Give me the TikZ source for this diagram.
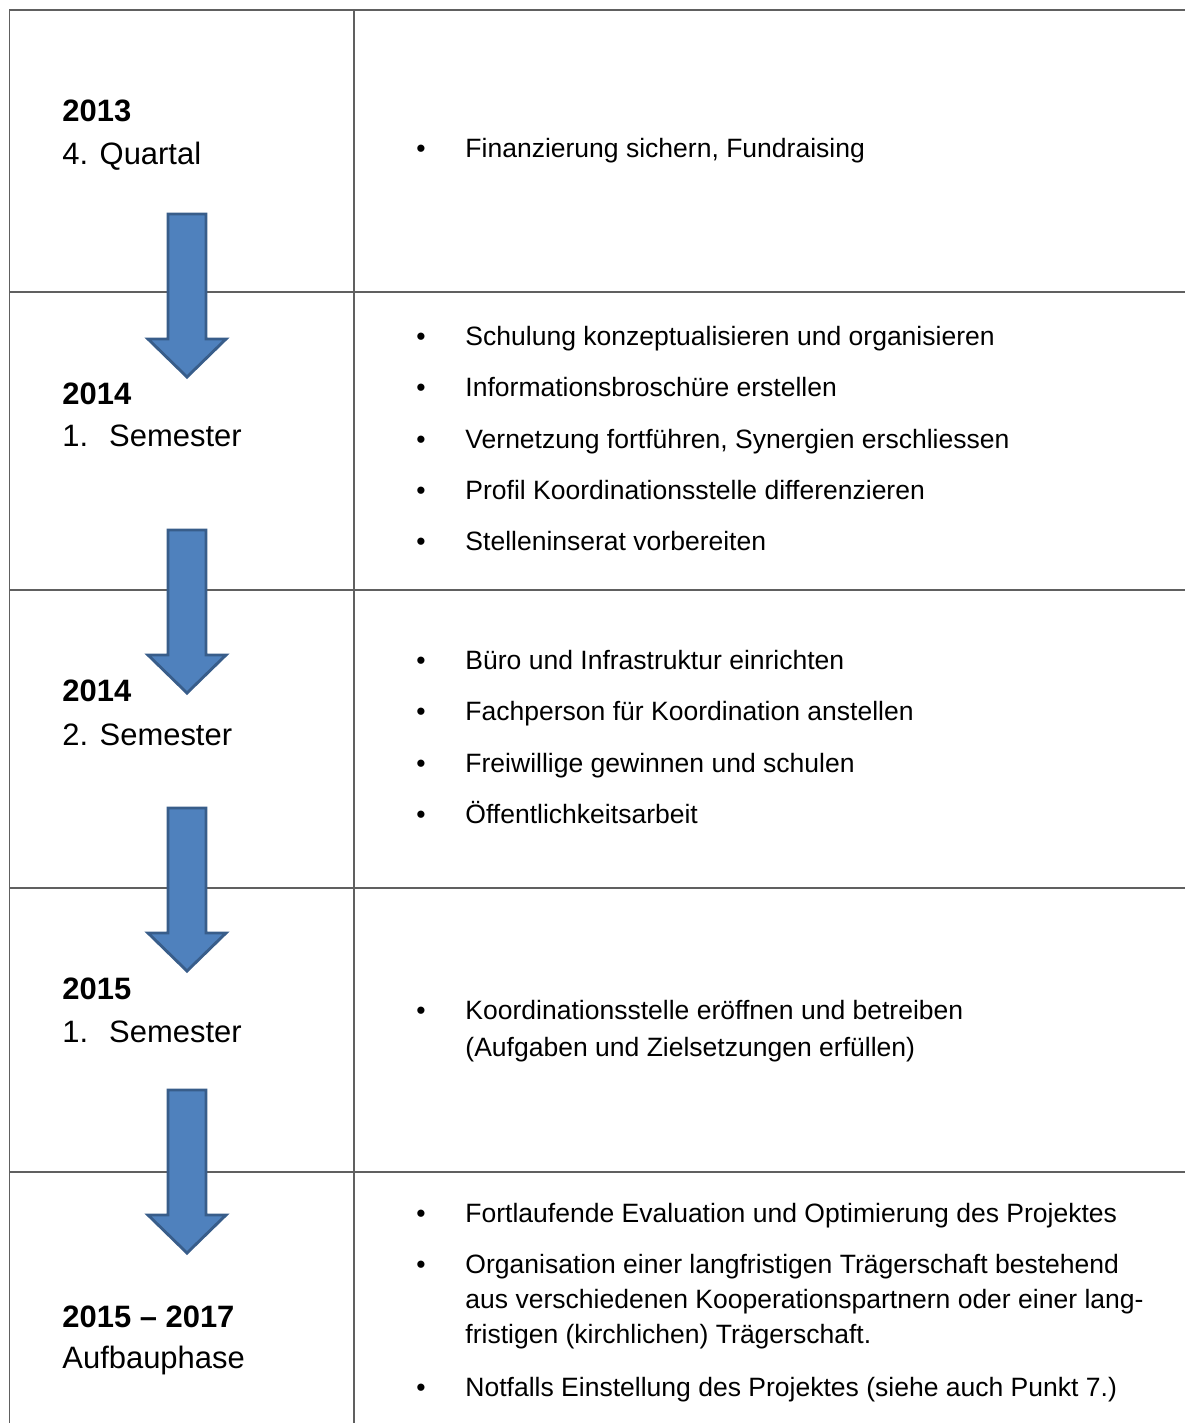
\documentclass[tikz,border=0pt]{standalone}
\usepackage{fontspec}
\setmainfont{Liberation Sans}
\usepackage{xcolor}
\usepackage{tikz}
\definecolor{gridgray}{RGB}{96,96,96}
\definecolor{arrowblue}{RGB}{79,129,189}
\definecolor{arrowedge}{RGB}{56,93,138}

\begin{document}
\begin{tikzpicture}[x=0.4525pt, y=-0.4525pt,
        gridline/.style={draw=gridgray, line width=0.9pt},
        blockarrow/.style={fill=arrowblue, draw=arrowedge, line width=1.3pt, line join=miter},
        yearnode/.style={anchor=base west, inner sep=0pt, font=\fontsize{14}{17}\selectfont\bfseries},
        phasenode/.style={anchor=base west, inner sep=0pt, font=\fontsize{14}{17}\selectfont},
        bulletnode/.style={anchor=base, inner sep=0pt, font=\fontsize{12}{14}\selectfont},
        tasknode/.style={anchor=base west, inner sep=0pt, font=\fontsize{12}{14}\selectfont},
    ]
    \useasboundingbox (0,0) rectangle (1184,1423);
    %Grid
    \draw[gridline] (1200,10) -- (9.5,10) -- (9.5,1440);
    \draw[gridline] (354,10) -- (354,1440);
    \foreach \r in {292,590,888,1172}
        \draw[gridline] (9.5,\r) -- (1200,\r);
    %Arrows
    \foreach \t in {214,530,808,1090}
        \draw[blockarrow] (168,\t) -- (206,\t) -- (206,\t+125) -- (226,\t+125)
            -- (187,\t+163) -- (148,\t+125) -- (168,\t+125) -- cycle;
    %Periods
    \node[yearnode]  (year1)  at (62,122)  {2013};
    \node[phasenode] (phase1) at (62,165)  {4. Quartal};
    \node[yearnode]  (year2)  at (62,404)  {2014};
    \node[phasenode] (phase2) at (62,446)  {1.\hspace{9.5pt}Semester};
    \node[yearnode]  (year3)  at (62,701)  {2014};
    \node[phasenode] (phase3) at (62,745)  {2. Semester};
    \node[yearnode]  (year4)  at (62,999)  {2015};
    \node[phasenode] (phase4) at (62,1042) {1.\hspace{9.5pt}Semester};
    \node[yearnode]  (year5)  at (62,1327) {2015 – 2017};
    \node[phasenode] (phase5) at (62,1368) {Aufbauphase};
    %Tasks
    \node[bulletnode] (bul11) at (421,157)  {•};
    \node[tasknode]   (task11) at (465,157) {Finanzierung sichern, Fundraising};
    \node[bulletnode] (bul21) at (421,345)  {•};
    \node[tasknode]   (task21) at (465,345) {Schulung konzeptualisieren und organisieren};
    \node[bulletnode] (bul22) at (421,396)  {•};
    \node[tasknode]   (task22) at (465,396) {Informationsbroschüre erstellen};
    \node[bulletnode] (bul23) at (421,448)  {•};
    \node[tasknode]   (task23) at (465,448) {Vernetzung fortführen, Synergien erschliessen};
    \node[bulletnode] (bul24) at (421,499)  {•};
    \node[tasknode]   (task24) at (465,499) {Profil Koordinationsstelle differenzieren};
    \node[bulletnode] (bul25) at (421,550)  {•};
    \node[tasknode]   (task25) at (465,550) {Stelleninserat vorbereiten};
    \node[bulletnode] (bul31) at (421,669)  {•};
    \node[tasknode]   (task31) at (465,669) {Büro und Infrastruktur einrichten};
    \node[bulletnode] (bul32) at (421,720)  {•};
    \node[tasknode]   (task32) at (465,720) {Fachperson für Koordination anstellen};
    \node[bulletnode] (bul33) at (421,772)  {•};
    \node[tasknode]   (task33) at (465,772) {Freiwillige gewinnen und schulen};
    \node[bulletnode] (bul34) at (421,823)  {•};
    \node[tasknode]   (task34) at (465,823) {Öffentlichkeitsarbeit};
    \node[bulletnode] (bul41) at (421,1019) {•};
    \node[tasknode]   (task41) at (465,1019) {Koordinationsstelle eröffnen und betreiben};
    \node[tasknode]   (task41b) at (465,1056) {(Aufgaben und Zielsetzungen erfüllen)};
    \node[bulletnode] (bul51) at (421,1222) {•};
    \node[tasknode]   (task51) at (465,1222) {Fortlaufende Evaluation und Optimierung des Projektes};
    \node[bulletnode] (bul52) at (421,1273) {•};
    \node[tasknode]   (task52) at (465,1273) {Organisation einer langfristigen Trägerschaft bestehend};
    \node[tasknode]   (task52b) at (465,1308) {aus verschiedenen Kooperationspartnern oder einer lang-};
    \node[tasknode]   (task52c) at (465,1343) {fristigen (kirchlichen) Trägerschaft.};
    \node[bulletnode] (bul53) at (421,1396) {•};
    \node[tasknode]   (task53) at (465,1396) {Notfalls Einstellung des Projektes (siehe auch Punkt 7.)};
\end{tikzpicture}
\end{document}
